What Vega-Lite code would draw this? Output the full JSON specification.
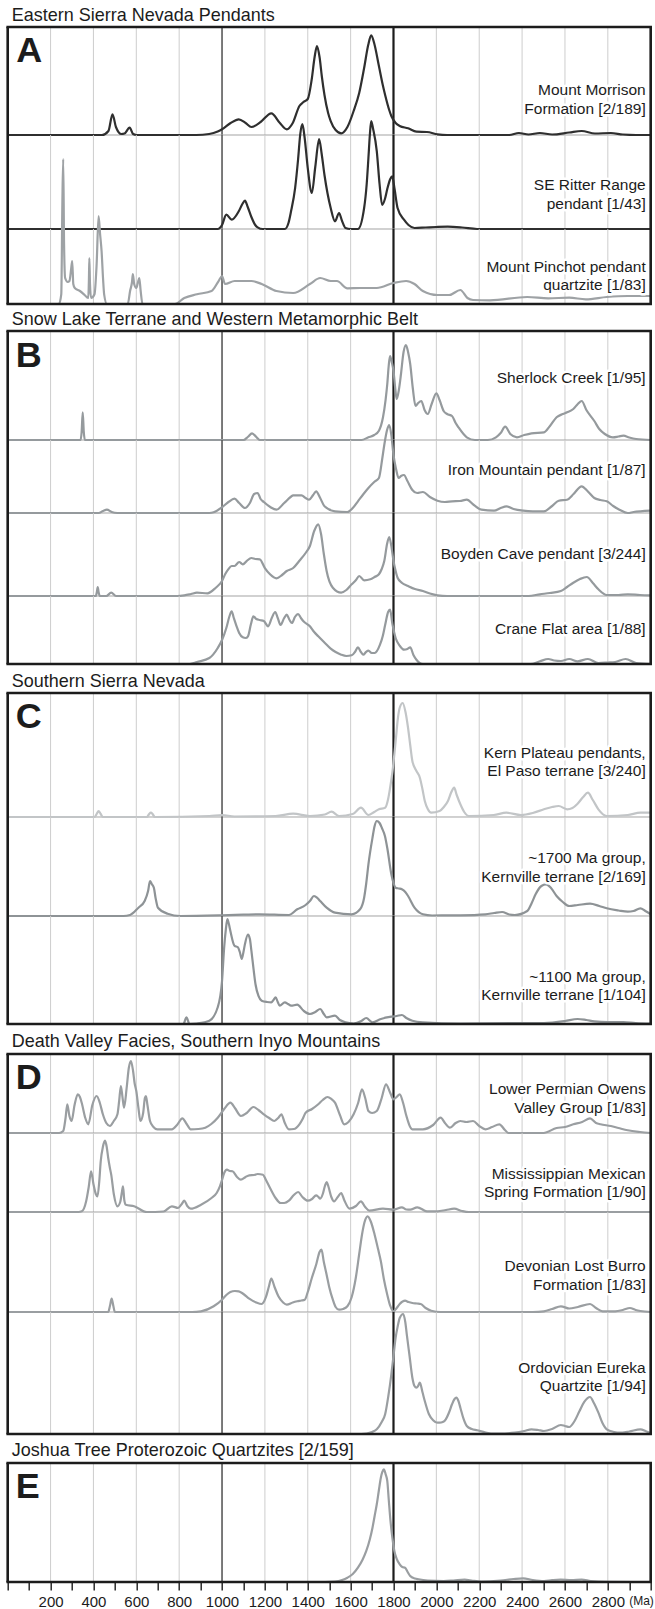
{
"$schema":"https://vega.github.io/schema/vega-lite/v6.json",
"background":"white",
"padding":{"left":5.7,"top":6,"right":0,"bottom":0},
"bounds":"flush",
"spacing":0,
"config":{"view":{"stroke":null},"font":"Liberation Sans"},
"resolve":{"scale":{"x":"independent","y":"independent"}},
"datasets":{
"grid":[{"ma":200},{"ma":400},{"ma":600},{"ma":800},{"ma":1000},{"ma":1200},{"ma":1400},{"ma":1600},{"ma":1800},{"ma":2000},{"ma":2200},{"ma":2400},{"ma":2600},{"ma":2800}],
"A1":[{"ma":0,"p":0},{"ma":440,"p":0},{"ma":470,"p":4},{"ma":489,"p":20.7},{"ma":505,"p":8},{"ma":530,"p":1},{"ma":545,"p":1.5},{"ma":569,"p":7.3},{"ma":585,"p":1},{"ma":600,"p":0},{"ma":880,"p":0},{"ma":940,"p":1},{"ma":980,"p":3.5},{"ma":1000,"p":5.7},{"ma":1040,"p":12},{"ma":1078,"p":15.7},{"ma":1110,"p":12},{"ma":1137,"p":8},{"ma":1180,"p":13},{"ma":1230,"p":21.7},{"ma":1270,"p":12},{"ma":1302,"p":5.7},{"ma":1330,"p":12},{"ma":1361,"p":29},{"ma":1380,"p":33},{"ma":1400,"p":36},{"ma":1418,"p":55},{"ma":1432,"p":78},{"ma":1443,"p":89},{"ma":1455,"p":78},{"ma":1466,"p":58},{"ma":1478,"p":40},{"ma":1495,"p":22},{"ma":1507,"p":14},{"ma":1530,"p":5},{"ma":1556,"p":1.7},{"ma":1585,"p":8},{"ma":1614,"p":24},{"ma":1640,"p":42},{"ma":1663,"p":67},{"ma":1682,"p":90},{"ma":1696,"p":99.7},{"ma":1712,"p":90},{"ma":1731,"p":70},{"ma":1750,"p":50},{"ma":1761,"p":40},{"ma":1780,"p":25},{"ma":1790,"p":19},{"ma":1810,"p":12},{"ma":1829,"p":9},{"ma":1868,"p":6.7},{"ma":1907,"p":3.3},{"ma":1956,"p":3},{"ma":2005,"p":0.7},{"ma":2050,"p":0},{"ma":2340,"p":0},{"ma":2385,"p":2},{"ma":2430,"p":0.5},{"ma":2483,"p":2},{"ma":2540,"p":0.5},{"ma":2620,"p":2.5},{"ma":2678,"p":4},{"ma":2740,"p":1.5},{"ma":2814,"p":2},{"ma":2870,"p":0.5},{"ma":2932,"p":0},{"ma":3000,"p":0}],
"A2":[{"ma":0,"p":0},{"ma":980,"p":0},{"ma":1000,"p":4},{"ma":1020,"p":14.3},{"ma":1045,"p":9.3},{"ma":1078,"p":17.7},{"ma":1095,"p":25},{"ma":1107,"p":28.3},{"ma":1120,"p":22},{"ma":1137,"p":12},{"ma":1155,"p":4},{"ma":1166,"p":1.7},{"ma":1190,"p":0},{"ma":1293,"p":0},{"ma":1310,"p":6},{"ma":1322,"p":17.7},{"ma":1341,"p":41},{"ma":1355,"p":70},{"ma":1365,"p":95},{"ma":1375,"p":105},{"ma":1385,"p":92},{"ma":1400,"p":61},{"ma":1419,"p":36},{"ma":1435,"p":62},{"ma":1453,"p":90},{"ma":1465,"p":75},{"ma":1478,"p":54},{"ma":1507,"p":21},{"ma":1527,"p":7.7},{"ma":1546,"p":16},{"ma":1560,"p":8},{"ma":1576,"p":1},{"ma":1600,"p":0},{"ma":1634,"p":0},{"ma":1663,"p":21},{"ma":1675,"p":45},{"ma":1683,"p":71},{"ma":1690,"p":95},{"ma":1696,"p":108},{"ma":1705,"p":100},{"ma":1722,"p":78},{"ma":1735,"p":45},{"ma":1747,"p":24},{"ma":1760,"p":30},{"ma":1771,"p":40},{"ma":1785,"p":50},{"ma":1794,"p":52.7},{"ma":1805,"p":40},{"ma":1819,"p":21},{"ma":1849,"p":9.3},{"ma":1870,"p":4},{"ma":1898,"p":1},{"ma":1950,"p":1.5},{"ma":2000,"p":2},{"ma":2053,"p":2.3},{"ma":2120,"p":1.5},{"ma":2190,"p":0},{"ma":3000,"p":0}],
"A3":[{"ma":0,"p":0},{"ma":239,"p":0},{"ma":250,"p":10},{"ma":255,"p":100},{"ma":259,"p":145},{"ma":263,"p":60},{"ma":268,"p":26},{"ma":280,"p":22},{"ma":288,"p":23},{"ma":296,"p":35},{"ma":301,"p":43},{"ma":306,"p":20},{"ma":313,"p":16},{"ma":337,"p":13},{"ma":356,"p":9.7},{"ma":376,"p":6},{"ma":379,"p":25},{"ma":381,"p":46},{"ma":384,"p":20},{"ma":389,"p":6},{"ma":405,"p":9.7},{"ma":415,"p":40},{"ma":424,"p":88},{"ma":431,"p":70},{"ma":438,"p":53},{"ma":445,"p":25},{"ma":450,"p":9.7},{"ma":463,"p":0},{"ma":560,"p":0},{"ma":571,"p":13},{"ma":580,"p":22},{"ma":584,"p":30},{"ma":590,"p":20},{"ma":600,"p":16},{"ma":608,"p":22},{"ma":614,"p":26},{"ma":620,"p":14},{"ma":629,"p":0},{"ma":780,"p":0},{"ma":824,"p":6},{"ma":883,"p":9.7},{"ma":951,"p":13},{"ma":984,"p":23},{"ma":1000,"p":28},{"ma":1014,"p":20},{"ma":1059,"p":23},{"ma":1137,"p":23},{"ma":1185,"p":20},{"ma":1254,"p":13},{"ma":1332,"p":11},{"ma":1410,"p":20},{"ma":1458,"p":26},{"ma":1507,"p":23},{"ma":1536,"p":23},{"ma":1585,"p":15.7},{"ma":1644,"p":16},{"ma":1722,"p":16},{"ma":1800,"p":21},{"ma":1859,"p":23},{"ma":1898,"p":20},{"ma":1937,"p":13},{"ma":2005,"p":9},{"ma":2060,"p":9},{"ma":2112,"p":14},{"ma":2145,"p":6},{"ma":2171,"p":4},{"ma":2250,"p":3.7},{"ma":2424,"p":7},{"ma":2522,"p":5.7},{"ma":2620,"p":6.3},{"ma":2697,"p":4.7},{"ma":2795,"p":7},{"ma":2893,"p":8},{"ma":3000,"p":8}],
"B1":[{"ma":0,"p":0},{"ma":340,"p":0},{"ma":345,"p":8},{"ma":350,"p":27.7},{"ma":355,"p":8},{"ma":360,"p":0},{"ma":1100,"p":0},{"ma":1120,"p":3},{"ma":1140,"p":6.7},{"ma":1160,"p":3},{"ma":1176,"p":0},{"ma":1650,"p":0},{"ma":1683,"p":2.7},{"ma":1710,"p":5},{"ma":1732,"p":9.3},{"ma":1751,"p":22.7},{"ma":1763,"p":40},{"ma":1771,"p":56},{"ma":1778,"p":75},{"ma":1784,"p":84},{"ma":1792,"p":78},{"ma":1800,"p":69},{"ma":1808,"p":52},{"ma":1815,"p":41},{"ma":1825,"p":50},{"ma":1835,"p":66},{"ma":1847,"p":88},{"ma":1858,"p":95},{"ma":1868,"p":88},{"ma":1878,"p":76},{"ma":1890,"p":52},{"ma":1903,"p":34},{"ma":1915,"p":37},{"ma":1930,"p":39},{"ma":1945,"p":30},{"ma":1960,"p":26},{"ma":1978,"p":36},{"ma":2000,"p":46.7},{"ma":2015,"p":40},{"ma":2034,"p":29},{"ma":2050,"p":26},{"ma":2073,"p":24},{"ma":2090,"p":17},{"ma":2103,"p":12.7},{"ma":2142,"p":2.7},{"ma":2180,"p":0},{"ma":2240,"p":0},{"ma":2278,"p":2.7},{"ma":2300,"p":7},{"ma":2321,"p":13.3},{"ma":2345,"p":6},{"ma":2376,"p":2.7},{"ma":2410,"p":5},{"ma":2444,"p":6.7},{"ma":2502,"p":7.7},{"ma":2530,"p":14},{"ma":2561,"p":22.7},{"ma":2590,"p":26},{"ma":2610,"p":27.7},{"ma":2639,"p":31},{"ma":2660,"p":36},{"ma":2678,"p":39},{"ma":2700,"p":30},{"ma":2737,"p":19},{"ma":2760,"p":11},{"ma":2786,"p":6},{"ma":2824,"p":2.7},{"ma":2850,"p":3.5},{"ma":2873,"p":4.3},{"ma":2900,"p":2.5},{"ma":2932,"p":1},{"ma":3000,"p":0}],
"B2":[{"ma":0,"p":0},{"ma":424,"p":0},{"ma":445,"p":2},{"ma":463,"p":3.3},{"ma":485,"p":1},{"ma":512,"p":0},{"ma":940,"p":0},{"ma":961,"p":0.7},{"ma":1000,"p":5.7},{"ma":1030,"p":11},{"ma":1058,"p":14.3},{"ma":1080,"p":10},{"ma":1107,"p":5},{"ma":1130,"p":10},{"ma":1150,"p":19},{"ma":1166,"p":20},{"ma":1180,"p":14},{"ma":1195,"p":11},{"ma":1225,"p":6},{"ma":1254,"p":3.3},{"ma":1290,"p":10},{"ma":1320,"p":16},{"ma":1332,"p":17.7},{"ma":1371,"p":17.7},{"ma":1390,"p":15},{"ma":1406,"p":13.3},{"ma":1425,"p":18},{"ma":1439,"p":21.7},{"ma":1458,"p":15},{"ma":1478,"p":6.7},{"ma":1527,"p":1.7},{"ma":1585,"p":1},{"ma":1610,"p":5},{"ma":1634,"p":11.7},{"ma":1660,"p":19},{"ma":1683,"p":25},{"ma":1710,"p":31},{"ma":1732,"p":35},{"ma":1748,"p":55},{"ma":1757,"p":68},{"ma":1770,"p":83},{"ma":1780,"p":88},{"ma":1790,"p":78},{"ma":1800,"p":58},{"ma":1812,"p":44},{"ma":1824,"p":35},{"ma":1835,"p":37},{"ma":1849,"p":38},{"ma":1865,"p":32},{"ma":1888,"p":23},{"ma":1910,"p":20},{"ma":1937,"p":21},{"ma":1970,"p":16},{"ma":2005,"p":12.3},{"ma":2040,"p":11},{"ma":2073,"p":11.7},{"ma":2110,"p":12},{"ma":2142,"p":13.3},{"ma":2175,"p":8},{"ma":2210,"p":3.3},{"ma":2269,"p":2.3},{"ma":2300,"p":5},{"ma":2327,"p":6.7},{"ma":2360,"p":4},{"ma":2405,"p":2.3},{"ma":2450,"p":1.7},{"ma":2502,"p":1.7},{"ma":2540,"p":7},{"ma":2571,"p":12.3},{"ma":2610,"p":13.3},{"ma":2640,"p":19},{"ma":2678,"p":26.7},{"ma":2705,"p":22},{"ma":2737,"p":15},{"ma":2765,"p":13},{"ma":2795,"p":11.7},{"ma":2825,"p":7},{"ma":2854,"p":3.3},{"ma":2893,"p":0},{"ma":2920,"p":1},{"ma":2952,"p":1.7},{"ma":3000,"p":2.3}],
"B3":[{"ma":0,"p":0},{"ma":411,"p":0},{"ma":416,"p":4},{"ma":420,"p":9},{"ma":424,"p":4},{"ma":430,"p":0},{"ma":460,"p":0},{"ma":483,"p":3.3},{"ma":505,"p":0},{"ma":790,"p":0},{"ma":824,"p":0.7},{"ma":855,"p":2},{"ma":883,"p":3.3},{"ma":932,"p":2.7},{"ma":971,"p":8.3},{"ma":1000,"p":15},{"ma":1015,"p":22},{"ma":1029,"p":26.7},{"ma":1045,"p":30},{"ma":1058,"p":30},{"ma":1080,"p":34},{"ma":1097,"p":31.7},{"ma":1115,"p":35},{"ma":1137,"p":38},{"ma":1155,"p":37},{"ma":1176,"p":36.7},{"ma":1200,"p":28},{"ma":1224,"p":21.7},{"ma":1254,"p":17.7},{"ma":1280,"p":21},{"ma":1302,"p":25},{"ma":1332,"p":28},{"ma":1360,"p":35},{"ma":1390,"p":43},{"ma":1410,"p":50},{"ma":1430,"p":65},{"ma":1449,"p":71.7},{"ma":1462,"p":62},{"ma":1475,"p":42},{"ma":1488,"p":25},{"ma":1517,"p":8.3},{"ma":1556,"p":3.3},{"ma":1580,"p":6},{"ma":1605,"p":11.7},{"ma":1625,"p":16},{"ma":1640,"p":20},{"ma":1663,"p":15.7},{"ma":1692,"p":16.7},{"ma":1712,"p":19},{"ma":1732,"p":21.7},{"ma":1745,"p":27},{"ma":1757,"p":35},{"ma":1770,"p":52},{"ma":1780,"p":59},{"ma":1790,"p":50},{"ma":1800,"p":35},{"ma":1810,"p":25},{"ma":1819,"p":18.3},{"ma":1840,"p":13},{"ma":1868,"p":10},{"ma":1900,"p":7},{"ma":1937,"p":5},{"ma":1970,"p":2.5},{"ma":2005,"p":0.7},{"ma":2050,"p":0},{"ma":2430,"p":0},{"ma":2483,"p":1.7},{"ma":2530,"p":3},{"ma":2581,"p":5},{"ma":2610,"p":9},{"ma":2639,"p":13.3},{"ma":2670,"p":17},{"ma":2702,"p":19},{"ma":2730,"p":13},{"ma":2756,"p":6.7},{"ma":2795,"p":1},{"ma":2850,"p":1},{"ma":2893,"p":1.7},{"ma":2950,"p":1},{"ma":3000,"p":0.7}],
"B4":[{"ma":0,"p":0},{"ma":850,"p":0},{"ma":883,"p":2},{"ma":941,"p":6},{"ma":980,"p":16},{"ma":1000,"p":24},{"ma":1020,"p":36},{"ma":1035,"p":48},{"ma":1045,"p":52.7},{"ma":1055,"p":46},{"ma":1068,"p":37.7},{"ma":1080,"p":31},{"ma":1097,"p":26.7},{"ma":1110,"p":26},{"ma":1121,"p":27.7},{"ma":1135,"p":40},{"ma":1146,"p":47.7},{"ma":1160,"p":45},{"ma":1176,"p":44},{"ma":1195,"p":43},{"ma":1215,"p":37.7},{"ma":1232,"p":46},{"ma":1248,"p":52},{"ma":1260,"p":46},{"ma":1273,"p":39},{"ma":1290,"p":46},{"ma":1302,"p":49.3},{"ma":1315,"p":44},{"ma":1326,"p":41},{"ma":1340,"p":47},{"ma":1355,"p":50},{"ma":1368,"p":46},{"ma":1380,"p":42.7},{"ma":1410,"p":37.7},{"ma":1430,"p":32},{"ma":1449,"p":27.7},{"ma":1480,"p":21},{"ma":1507,"p":15.3},{"ma":1530,"p":12},{"ma":1556,"p":9.3},{"ma":1580,"p":8},{"ma":1605,"p":8.7},{"ma":1620,"p":12},{"ma":1634,"p":16.7},{"ma":1648,"p":12},{"ma":1659,"p":9.3},{"ma":1672,"p":12},{"ma":1683,"p":13.3},{"ma":1698,"p":11},{"ma":1712,"p":11},{"ma":1737,"p":19.3},{"ma":1750,"p":28},{"ma":1761,"p":39},{"ma":1775,"p":52},{"ma":1784,"p":54.3},{"ma":1795,"p":40},{"ma":1810,"p":26},{"ma":1830,"p":18},{"ma":1849,"p":14.3},{"ma":1865,"p":15},{"ma":1878,"p":16.7},{"ma":1893,"p":9},{"ma":1907,"p":4.3},{"ma":1937,"p":0},{"ma":2440,"p":0},{"ma":2483,"p":2.7},{"ma":2522,"p":5},{"ma":2550,"p":3.5},{"ma":2581,"p":3},{"ma":2620,"p":5},{"ma":2659,"p":2.7},{"ma":2707,"p":5},{"ma":2756,"p":1},{"ma":2800,"p":1.5},{"ma":2834,"p":2},{"ma":2883,"p":5},{"ma":2932,"p":1},{"ma":3000,"p":0}],
"C1":[{"ma":0,"p":0},{"ma":405,"p":0},{"ma":415,"p":3},{"ma":424,"p":6},{"ma":434,"p":3},{"ma":444,"p":0},{"ma":650,"p":0},{"ma":660,"p":3},{"ma":668,"p":4.3},{"ma":676,"p":3},{"ma":686,"p":0},{"ma":941,"p":1},{"ma":1000,"p":2},{"ma":1058,"p":0.5},{"ma":1250,"p":1},{"ma":1332,"p":3.3},{"ma":1410,"p":1},{"ma":1480,"p":2.5},{"ma":1511,"p":5.3},{"ma":1546,"p":1},{"ma":1610,"p":3},{"ma":1648,"p":9.3},{"ma":1683,"p":2},{"ma":1710,"p":5},{"ma":1732,"p":7.7},{"ma":1761,"p":9.3},{"ma":1775,"p":18},{"ma":1784,"p":29},{"ma":1795,"p":45},{"ma":1804,"p":62.7},{"ma":1812,"p":80},{"ma":1819,"p":96},{"ma":1830,"p":110},{"ma":1843,"p":114},{"ma":1856,"p":105},{"ma":1868,"p":89},{"ma":1878,"p":72},{"ma":1888,"p":56},{"ma":1907,"p":46},{"ma":1923,"p":39.3},{"ma":1935,"p":28},{"ma":1946,"p":16},{"ma":1960,"p":8},{"ma":1976,"p":4.3},{"ma":2015,"p":6},{"ma":2035,"p":10},{"ma":2054,"p":16},{"ma":2070,"p":25},{"ma":2083,"p":29.3},{"ma":2095,"p":22},{"ma":2112,"p":12.7},{"ma":2130,"p":5},{"ma":2151,"p":1},{"ma":2268,"p":2},{"ma":2327,"p":4.3},{"ma":2395,"p":2},{"ma":2450,"p":4},{"ma":2502,"p":7.7},{"ma":2540,"p":10},{"ma":2571,"p":11},{"ma":2610,"p":7.7},{"ma":2635,"p":9},{"ma":2659,"p":13.3},{"ma":2685,"p":20},{"ma":2707,"p":24.3},{"ma":2730,"p":17},{"ma":2756,"p":7.7},{"ma":2795,"p":1},{"ma":2893,"p":2},{"ma":2952,"p":4.3},{"ma":3000,"p":4.3}],
"C2":[{"ma":0,"p":0},{"ma":540,"p":0},{"ma":571,"p":1},{"ma":610,"p":8.3},{"ma":639,"p":15},{"ma":655,"p":25},{"ma":664,"p":35},{"ma":672,"p":32},{"ma":682,"p":28.3},{"ma":690,"p":18},{"ma":701,"p":8.3},{"ma":746,"p":2.3},{"ma":805,"p":0},{"ma":1000,"p":0.7},{"ma":1100,"p":1.3},{"ma":1176,"p":1.7},{"ma":1312,"p":1},{"ma":1351,"p":6.7},{"ma":1390,"p":11},{"ma":1410,"p":15},{"ma":1429,"p":20},{"ma":1445,"p":18},{"ma":1458,"p":15},{"ma":1488,"p":8.3},{"ma":1527,"p":3.3},{"ma":1605,"p":1.7},{"ma":1644,"p":6.7},{"ma":1663,"p":18.3},{"ma":1673,"p":33},{"ma":1683,"p":51.7},{"ma":1702,"p":78.3},{"ma":1712,"p":90},{"ma":1722,"p":95},{"ma":1735,"p":93},{"ma":1746,"p":88},{"ma":1760,"p":80},{"ma":1771,"p":68},{"ma":1790,"p":41.7},{"ma":1800,"p":33},{"ma":1810,"p":28.3},{"ma":1825,"p":27.5},{"ma":1839,"p":26.7},{"ma":1855,"p":24},{"ma":1868,"p":20},{"ma":1898,"p":8.3},{"ma":1937,"p":1.7},{"ma":1980,"p":0.5},{"ma":2112,"p":0.7},{"ma":2229,"p":1.7},{"ma":2270,"p":3},{"ma":2307,"p":4},{"ma":2340,"p":1.5},{"ma":2366,"p":1},{"ma":2424,"p":5},{"ma":2445,"p":13},{"ma":2463,"p":21.7},{"ma":2490,"p":30},{"ma":2512,"p":31.7},{"ma":2535,"p":28},{"ma":2561,"p":20},{"ma":2590,"p":14},{"ma":2620,"p":10},{"ma":2660,"p":11},{"ma":2717,"p":12.3},{"ma":2760,"p":10},{"ma":2795,"p":7.7},{"ma":2850,"p":5.5},{"ma":2893,"p":4.3},{"ma":2920,"p":5},{"ma":2952,"p":7.7},{"ma":2975,"p":5},{"ma":3000,"p":1.7}],
"C3":[{"ma":0,"p":0},{"ma":820,"p":0},{"ma":834,"p":6.7},{"ma":848,"p":0},{"ma":883,"p":0.5},{"ma":941,"p":3.3},{"ma":980,"p":16.7},{"ma":1000,"p":43},{"ma":1010,"p":76.7},{"ma":1018,"p":95},{"ma":1025,"p":105},{"ma":1032,"p":100},{"ma":1039,"p":93},{"ma":1058,"p":78.3},{"ma":1074,"p":76.7},{"ma":1083,"p":72},{"ma":1092,"p":65},{"ma":1100,"p":72},{"ma":1107,"p":80},{"ma":1121,"p":89.3},{"ma":1130,"p":85},{"ma":1137,"p":73.3},{"ma":1147,"p":55},{"ma":1156,"p":40},{"ma":1170,"p":28},{"ma":1185,"p":23.3},{"ma":1210,"p":22},{"ma":1230,"p":21.7},{"ma":1240,"p":24},{"ma":1250,"p":26.7},{"ma":1260,"p":22},{"ma":1269,"p":18.3},{"ma":1293,"p":21.7},{"ma":1308,"p":20},{"ma":1322,"p":18.3},{"ma":1351,"p":19.3},{"ma":1380,"p":13.3},{"ma":1410,"p":10},{"ma":1435,"p":12},{"ma":1458,"p":15},{"ma":1475,"p":10},{"ma":1488,"p":6.7},{"ma":1527,"p":8.3},{"ma":1550,"p":4},{"ma":1576,"p":1.7},{"ma":1614,"p":0.5},{"ma":1650,"p":3},{"ma":1673,"p":6},{"ma":1702,"p":1.7},{"ma":1741,"p":5},{"ma":1790,"p":7.3},{"ma":1815,"p":8},{"ma":1839,"p":9},{"ma":1860,"p":6},{"ma":1888,"p":3.3},{"ma":1937,"p":1.7},{"ma":2112,"p":0.5},{"ma":2502,"p":1},{"ma":2600,"p":3},{"ma":2659,"p":5},{"ma":2700,"p":4},{"ma":2737,"p":2.7},{"ma":2800,"p":2},{"ma":2873,"p":2},{"ma":2930,"p":1},{"ma":3000,"p":0.5}],
"D1":[{"ma":0,"p":0},{"ma":240,"p":0},{"ma":259,"p":2},{"ma":270,"p":15},{"ma":278,"p":28.7},{"ma":288,"p":17},{"ma":298,"p":12},{"ma":312,"p":28},{"ma":327,"p":38.7},{"ma":337,"p":36},{"ma":347,"p":28.7},{"ma":362,"p":15},{"ma":376,"p":8.7},{"ma":395,"p":28},{"ma":415,"p":37},{"ma":430,"p":30},{"ma":444,"p":18.7},{"ma":460,"p":10},{"ma":477,"p":7},{"ma":495,"p":12},{"ma":512,"p":18.7},{"ma":520,"p":32},{"ma":528,"p":47},{"ma":536,"p":35},{"ma":543,"p":25.3},{"ma":555,"p":45},{"ma":565,"p":65},{"ma":575,"p":72},{"ma":585,"p":62},{"ma":592,"p":50},{"ma":600,"p":42},{"ma":610,"p":25},{"ma":619,"p":12},{"ma":632,"p":20},{"ma":640,"p":35},{"ma":645,"p":37},{"ma":652,"p":28},{"ma":664,"p":12},{"ma":680,"p":6},{"ma":698,"p":3.7},{"ma":766,"p":3.7},{"ma":790,"p":8},{"ma":815,"p":14.7},{"ma":835,"p":9},{"ma":854,"p":3.7},{"ma":890,"p":4},{"ma":922,"p":5.3},{"ma":950,"p":9},{"ma":980,"p":15.3},{"ma":1010,"p":24},{"ma":1039,"p":30.3},{"ma":1060,"p":25},{"ma":1088,"p":17},{"ma":1115,"p":20},{"ma":1146,"p":26},{"ma":1170,"p":23},{"ma":1195,"p":18.7},{"ma":1220,"p":15},{"ma":1244,"p":12},{"ma":1262,"p":15},{"ma":1277,"p":18.7},{"ma":1293,"p":10},{"ma":1312,"p":3.7},{"ma":1335,"p":4},{"ma":1361,"p":8.7},{"ma":1376,"p":14},{"ma":1390,"p":20.3},{"ma":1420,"p":24},{"ma":1449,"p":28.7},{"ma":1470,"p":33},{"ma":1492,"p":36},{"ma":1510,"p":34},{"ma":1527,"p":30.3},{"ma":1550,"p":18},{"ma":1570,"p":8.7},{"ma":1590,"p":11},{"ma":1614,"p":18.7},{"ma":1635,"p":30},{"ma":1653,"p":43.7},{"ma":1668,"p":35},{"ma":1683,"p":22},{"ma":1700,"p":20},{"ma":1722,"p":22},{"ma":1745,"p":35},{"ma":1765,"p":48.7},{"ma":1785,"p":40},{"ma":1800,"p":33.7},{"ma":1815,"p":36},{"ma":1829,"p":38.7},{"ma":1845,"p":30},{"ma":1858,"p":18.7},{"ma":1888,"p":3.7},{"ma":1937,"p":3.7},{"ma":1985,"p":8},{"ma":2020,"p":15.3},{"ma":2040,"p":10},{"ma":2063,"p":5.3},{"ma":2090,"p":10},{"ma":2112,"p":12},{"ma":2140,"p":11},{"ma":2171,"p":12},{"ma":2200,"p":7},{"ma":2229,"p":3.7},{"ma":2260,"p":6},{"ma":2294,"p":8.7},{"ma":2320,"p":3},{"ma":2337,"p":0},{"ma":2500,"p":0},{"ma":2561,"p":5},{"ma":2600,"p":6},{"ma":2639,"p":8.7},{"ma":2680,"p":11},{"ma":2717,"p":14.7},{"ma":2745,"p":10},{"ma":2766,"p":8.7},{"ma":2814,"p":7},{"ma":2850,"p":5},{"ma":2893,"p":2.7},{"ma":2950,"p":1},{"ma":3000,"p":0}],
"D2":[{"ma":0,"p":0},{"ma":330,"p":0},{"ma":346,"p":0.7},{"ma":366,"p":10.7},{"ma":378,"p":25},{"ma":389,"p":40.7},{"ma":400,"p":28},{"ma":411,"p":18},{"ma":419,"p":15.7},{"ma":427,"p":30},{"ma":434,"p":50.7},{"ma":444,"p":65},{"ma":454,"p":71.3},{"ma":462,"p":65},{"ma":469,"p":54},{"ma":476,"p":45},{"ma":483,"p":37.3},{"ma":495,"p":18},{"ma":512,"p":5.7},{"ma":525,"p":10},{"ma":533,"p":20},{"ma":538,"p":25.7},{"ma":544,"p":12},{"ma":551,"p":7.3},{"ma":590,"p":5.7},{"ma":649,"p":0},{"ma":727,"p":0.5},{"ma":766,"p":5.7},{"ma":795,"p":4},{"ma":812,"p":8},{"ma":824,"p":11.3},{"ma":838,"p":6},{"ma":854,"p":3.3},{"ma":902,"p":7.3},{"ma":951,"p":14},{"ma":975,"p":19},{"ma":990,"p":25.7},{"ma":1000,"p":32},{"ma":1010,"p":39},{"ma":1023,"p":42.3},{"ma":1036,"p":41},{"ma":1049,"p":40.7},{"ma":1070,"p":35},{"ma":1088,"p":32.3},{"ma":1110,"p":35},{"ma":1127,"p":36.7},{"ma":1150,"p":37},{"ma":1166,"p":38},{"ma":1191,"p":37.3},{"ma":1205,"p":32},{"ma":1224,"p":24},{"ma":1250,"p":14},{"ma":1273,"p":9},{"ma":1290,"p":9},{"ma":1312,"p":11.3},{"ma":1335,"p":17},{"ma":1355,"p":20},{"ma":1375,"p":15},{"ma":1400,"p":11.3},{"ma":1420,"p":13},{"ma":1439,"p":16.7},{"ma":1450,"p":15},{"ma":1458,"p":13.3},{"ma":1470,"p":18},{"ma":1480,"p":26},{"ma":1488,"p":30},{"ma":1497,"p":25},{"ma":1510,"p":15},{"ma":1523,"p":10.7},{"ma":1540,"p":15},{"ma":1556,"p":19},{"ma":1570,"p":12},{"ma":1595,"p":3.3},{"ma":1625,"p":6},{"ma":1648,"p":10.7},{"ma":1668,"p":5},{"ma":1687,"p":1.3},{"ma":1751,"p":3.3},{"ma":1800,"p":2.3},{"ma":1839,"p":4.7},{"ma":1860,"p":2.5},{"ma":1878,"p":2.3},{"ma":1911,"p":4.7},{"ma":1956,"p":0.7},{"ma":2005,"p":0.7},{"ma":2045,"p":2},{"ma":2083,"p":3.3},{"ma":2120,"p":1},{"ma":2151,"p":0},{"ma":3000,"p":0}],
"D3":[{"ma":0,"p":0},{"ma":469,"p":0},{"ma":477,"p":6},{"ma":485,"p":13.3},{"ma":493,"p":6},{"ma":500,"p":0},{"ma":860,"p":0},{"ma":902,"p":0.7},{"ma":961,"p":5.7},{"ma":1000,"p":12.3},{"ma":1020,"p":17},{"ma":1039,"p":20},{"ma":1060,"p":21},{"ma":1078,"p":20.7},{"ma":1100,"p":18},{"ma":1127,"p":13.3},{"ma":1160,"p":9.5},{"ma":1185,"p":8},{"ma":1205,"p":15},{"ma":1218,"p":25},{"ma":1230,"p":33.3},{"ma":1245,"p":25},{"ma":1263,"p":15.7},{"ma":1285,"p":9.5},{"ma":1302,"p":7.3},{"ma":1330,"p":9.5},{"ma":1351,"p":10.7},{"ma":1370,"p":11.5},{"ma":1386,"p":12.3},{"ma":1400,"p":20},{"ma":1419,"p":34},{"ma":1440,"p":48},{"ma":1455,"p":60},{"ma":1464,"p":62.3},{"ma":1475,"p":50},{"ma":1488,"p":37.3},{"ma":1500,"p":25},{"ma":1517,"p":12.3},{"ma":1530,"p":5},{"ma":1546,"p":2.3},{"ma":1565,"p":3},{"ma":1585,"p":5.7},{"ma":1605,"p":15},{"ma":1624,"p":34},{"ma":1640,"p":58},{"ma":1653,"p":77.3},{"ma":1665,"p":90},{"ma":1679,"p":95.7},{"ma":1695,"p":90},{"ma":1712,"p":77.3},{"ma":1728,"p":63},{"ma":1741,"p":50.7},{"ma":1755,"p":33},{"ma":1771,"p":17.3},{"ma":1785,"p":6},{"ma":1800,"p":0.7},{"ma":1815,"p":4},{"ma":1829,"p":8},{"ma":1854,"p":11.3},{"ma":1870,"p":10},{"ma":1888,"p":9},{"ma":1910,"p":8.5},{"ma":1927,"p":8},{"ma":1950,"p":4},{"ma":1976,"p":1.3},{"ma":2020,"p":0},{"ma":2450,"p":0},{"ma":2502,"p":0.7},{"ma":2540,"p":3},{"ma":2581,"p":5.7},{"ma":2620,"p":3.5},{"ma":2660,"p":5},{"ma":2717,"p":8},{"ma":2745,"p":4},{"ma":2776,"p":0.7},{"ma":2834,"p":0.7},{"ma":2870,"p":2},{"ma":2903,"p":4},{"ma":2930,"p":2},{"ma":2952,"p":1},{"ma":3000,"p":0}],
"D4":[{"ma":0,"p":0},{"ma":1650,"p":0},{"ma":1700,"p":2},{"ma":1722,"p":4.7},{"ma":1745,"p":12},{"ma":1761,"p":19.7},{"ma":1776,"p":38},{"ma":1790,"p":59.7},{"ma":1800,"p":78},{"ma":1810,"p":96.3},{"ma":1820,"p":108},{"ma":1829,"p":116},{"ma":1845,"p":120},{"ma":1855,"p":112},{"ma":1862,"p":99.7},{"ma":1875,"p":78},{"ma":1888,"p":56.3},{"ma":1898,"p":48},{"ma":1907,"p":46.3},{"ma":1915,"p":48},{"ma":1923,"p":51.3},{"ma":1935,"p":42},{"ma":1946,"p":33},{"ma":1965,"p":20},{"ma":1985,"p":13.7},{"ma":2000,"p":11.5},{"ma":2015,"p":11.3},{"ma":2030,"p":12},{"ma":2044,"p":14.7},{"ma":2060,"p":22},{"ma":2073,"p":29.7},{"ma":2085,"p":35},{"ma":2093,"p":36.3},{"ma":2103,"p":33},{"ma":2112,"p":26.3},{"ma":2127,"p":15},{"ma":2142,"p":8},{"ma":2165,"p":5},{"ma":2190,"p":3.7},{"ma":2230,"p":1.5},{"ma":2268,"p":0.3},{"ma":2320,"p":0.5},{"ma":2366,"p":1.3},{"ma":2410,"p":3},{"ma":2444,"p":4.7},{"ma":2475,"p":4},{"ma":2502,"p":3},{"ma":2540,"p":5},{"ma":2581,"p":9},{"ma":2600,"p":8},{"ma":2620,"p":7},{"ma":2645,"p":13},{"ma":2668,"p":23},{"ma":2690,"p":32},{"ma":2717,"p":37},{"ma":2735,"p":31},{"ma":2756,"p":21.3},{"ma":2775,"p":11},{"ma":2795,"p":4.7},{"ma":2830,"p":2},{"ma":2854,"p":1.3},{"ma":2900,"p":2.5},{"ma":2952,"p":4.7},{"ma":2980,"p":2.5},{"ma":3000,"p":1}],
"E1":[{"ma":0,"p":0},{"ma":1480,"p":0},{"ma":1527,"p":0.5},{"ma":1560,"p":2},{"ma":1585,"p":4.3},{"ma":1610,"p":8},{"ma":1634,"p":14.3},{"ma":1655,"p":22},{"ma":1673,"p":31},{"ma":1690,"p":43},{"ma":1702,"p":54.3},{"ma":1712,"p":66},{"ma":1722,"p":77.7},{"ma":1732,"p":92},{"ma":1741,"p":104.3},{"ma":1748,"p":110},{"ma":1755,"p":112.7},{"ma":1763,"p":108},{"ma":1771,"p":101},{"ma":1778,"p":82},{"ma":1786,"p":61},{"ma":1795,"p":44},{"ma":1804,"p":31},{"ma":1815,"p":23},{"ma":1829,"p":17.7},{"ma":1841,"p":15},{"ma":1854,"p":14.3},{"ma":1866,"p":10},{"ma":1878,"p":6},{"ma":1900,"p":3.5},{"ma":1917,"p":2.7},{"ma":1960,"p":1.5},{"ma":2034,"p":1},{"ma":2080,"p":1.5},{"ma":2132,"p":2.3},{"ma":2170,"p":1.2},{"ma":2210,"p":0.5},{"ma":2300,"p":1.5},{"ma":2360,"p":3},{"ma":2405,"p":3.7},{"ma":2450,"p":2},{"ma":2503,"p":1},{"ma":2540,"p":1.8},{"ma":2580,"p":2.3},{"ma":2630,"p":1.8},{"ma":2678,"p":2.3},{"ma":2720,"p":1},{"ma":2756,"p":0.5},{"ma":3000,"p":0}]
},
"vconcat":[
{"width":643,"height":108,"layer":[
{"data":{"name":"grid"},"mark":{"type":"rule"},"encoding":{"x":{"field":"ma","type":"quantitative","scale":{"domain":[0,3000],"nice":false,"zero":false},"axis":null},"color":{"condition":[{"test":"datum.ma === 1800","value":"#1c1c1c"},{"test":"datum.ma === 1000","value":"#5a5a5a"}],"value":"#cdcdcd"},"strokeWidth":{"condition":[{"test":"datum.ma === 1800","value":2.2},{"test":"datum.ma === 1000","value":1.6}],"value":1}}},
{"data":{"values":[{}]},"mark":{"type":"rule","color":"#a3a3a3","strokeWidth":1},"encoding":{"y":{"datum":0,"type":"quantitative","scale":{"domain":[0,108],"nice":false},"axis":null}}},
{"data":{"name":"A1"},"mark":{"type":"line","interpolate":"monotone","strokeWidth":2.2,"color":"#2f2f2f","strokeJoin":"round"},"encoding":{"x":{"field":"ma","type":"quantitative","scale":{"domain":[0,3000],"nice":false,"zero":false},"axis":null},"y":{"field":"p","type":"quantitative","scale":{"domain":[0,108],"nice":false},"axis":null}}},
{"data":{"values":[{}]},"mark":{"type":"rule","color":"#1c1c1c","strokeWidth":2.6},"encoding":{"x":{"datum":0,"type":"quantitative","scale":{"domain":[0,3000],"nice":false,"zero":false},"axis":null}}},
{"data":{"values":[{}]},"mark":{"type":"rule","color":"#1c1c1c","strokeWidth":2.6},"encoding":{"x":{"datum":3000,"type":"quantitative","scale":{"domain":[0,3000],"nice":false,"zero":false},"axis":null}}},
{"data":{"values":[{}]},"mark":{"type":"rule","color":"#1c1c1c","strokeWidth":2.6,"strokeCap":"square"},"encoding":{"y":{"datum":108,"type":"quantitative","scale":{"domain":[0,108],"nice":false},"axis":null}}},
{"data":{"values":[{}]},"mark":{"type":"text","align":"right","baseline":"middle","dx":-5,"fontSize":15.5,"lineHeight":18.5,"font":"Liberation Sans","color":"white","stroke":"white","strokeWidth":5,"strokeJoin":"round"},"encoding":{"x":{"datum":3000,"type":"quantitative","scale":{"domain":[0,3000],"nice":false,"zero":false},"axis":null},"y":{"datum":44.7,"type":"quantitative","scale":{"domain":[0,108],"nice":false},"axis":null},"text":{"value":["Mount Morrison","Formation [2/189]"]}}},
{"data":{"values":[{}]},"mark":{"type":"text","align":"right","baseline":"middle","dx":-5,"fontSize":15.5,"lineHeight":18.5,"font":"Liberation Sans","color":"#1c1c1c"},"encoding":{"x":{"datum":3000,"type":"quantitative","scale":{"domain":[0,3000],"nice":false,"zero":false},"axis":null},"y":{"datum":44.7,"type":"quantitative","scale":{"domain":[0,108],"nice":false},"axis":null},"text":{"value":["Mount Morrison","Formation [2/189]"]}}},
{"data":{"values":[{}]},"mark":{"type":"text","align":"left","baseline":"alphabetic","fontSize":18,"font":"Liberation Sans","color":"#1c1c1c"},"encoding":{"x":{"datum":19,"type":"quantitative","scale":{"domain":[0,3000],"nice":false,"zero":false},"axis":null},"y":{"datum":114.5,"type":"quantitative","scale":{"domain":[0,108],"nice":false},"axis":null},"text":{"value":"Eastern Sierra Nevada Pendants"}}},
{"data":{"values":[{}]},"mark":{"type":"text","align":"left","baseline":"alphabetic","fontSize":36,"fontWeight":"bold","font":"Liberation Sans","color":"#1c1c1c"},"encoding":{"x":{"datum":40,"type":"quantitative","scale":{"domain":[0,3000],"nice":false,"zero":false},"axis":null},"y":{"datum":73,"type":"quantitative","scale":{"domain":[0,108],"nice":false},"axis":null},"text":{"value":"A"}}}
]},
{"width":643,"height":94,"layer":[
{"data":{"name":"grid"},"mark":{"type":"rule"},"encoding":{"x":{"field":"ma","type":"quantitative","scale":{"domain":[0,3000],"nice":false,"zero":false},"axis":null},"color":{"condition":[{"test":"datum.ma === 1800","value":"#1c1c1c"},{"test":"datum.ma === 1000","value":"#5a5a5a"}],"value":"#cdcdcd"},"strokeWidth":{"condition":[{"test":"datum.ma === 1800","value":2.2},{"test":"datum.ma === 1000","value":1.6}],"value":1}}},
{"data":{"values":[{}]},"mark":{"type":"rule","color":"#a3a3a3","strokeWidth":1},"encoding":{"y":{"datum":0,"type":"quantitative","scale":{"domain":[0,94],"nice":false},"axis":null}}},
{"data":{"name":"A2"},"mark":{"type":"line","interpolate":"monotone","strokeWidth":2.2,"color":"#2f2f2f","strokeJoin":"round"},"encoding":{"x":{"field":"ma","type":"quantitative","scale":{"domain":[0,3000],"nice":false,"zero":false},"axis":null},"y":{"field":"p","type":"quantitative","scale":{"domain":[0,94],"nice":false},"axis":null}}},
{"data":{"values":[{}]},"mark":{"type":"rule","color":"#1c1c1c","strokeWidth":2.6},"encoding":{"x":{"datum":0,"type":"quantitative","scale":{"domain":[0,3000],"nice":false,"zero":false},"axis":null}}},
{"data":{"values":[{}]},"mark":{"type":"rule","color":"#1c1c1c","strokeWidth":2.6},"encoding":{"x":{"datum":3000,"type":"quantitative","scale":{"domain":[0,3000],"nice":false,"zero":false},"axis":null}}},
{"data":{"values":[{}]},"mark":{"type":"text","align":"right","baseline":"middle","dx":-5,"fontSize":15.5,"lineHeight":18.5,"font":"Liberation Sans","color":"white","stroke":"white","strokeWidth":5,"strokeJoin":"round"},"encoding":{"x":{"datum":3000,"type":"quantitative","scale":{"domain":[0,3000],"nice":false,"zero":false},"axis":null},"y":{"datum":43.9,"type":"quantitative","scale":{"domain":[0,94],"nice":false},"axis":null},"text":{"value":["SE Ritter Range","pendant [1/43]"]}}},
{"data":{"values":[{}]},"mark":{"type":"text","align":"right","baseline":"middle","dx":-5,"fontSize":15.5,"lineHeight":18.5,"font":"Liberation Sans","color":"#1c1c1c"},"encoding":{"x":{"datum":3000,"type":"quantitative","scale":{"domain":[0,3000],"nice":false,"zero":false},"axis":null},"y":{"datum":43.9,"type":"quantitative","scale":{"domain":[0,94],"nice":false},"axis":null},"text":{"value":["SE Ritter Range","pendant [1/43]"]}}}
]},
{"width":643,"height":75,"layer":[
{"data":{"name":"grid"},"mark":{"type":"rule"},"encoding":{"x":{"field":"ma","type":"quantitative","scale":{"domain":[0,3000],"nice":false,"zero":false},"axis":null},"color":{"condition":[{"test":"datum.ma === 1800","value":"#1c1c1c"},{"test":"datum.ma === 1000","value":"#5a5a5a"}],"value":"#cdcdcd"},"strokeWidth":{"condition":[{"test":"datum.ma === 1800","value":2.2},{"test":"datum.ma === 1000","value":1.6}],"value":1}}},
{"data":{"name":"A3"},"mark":{"type":"line","interpolate":"monotone","strokeWidth":2.2,"color":"#9ea2a5","strokeJoin":"round"},"encoding":{"x":{"field":"ma","type":"quantitative","scale":{"domain":[0,3000],"nice":false,"zero":false},"axis":null},"y":{"field":"p","type":"quantitative","scale":{"domain":[0,75],"nice":false},"axis":null}}},
{"data":{"values":[{}]},"mark":{"type":"rule","color":"#1c1c1c","strokeWidth":2.6},"encoding":{"x":{"datum":0,"type":"quantitative","scale":{"domain":[0,3000],"nice":false,"zero":false},"axis":null}}},
{"data":{"values":[{}]},"mark":{"type":"rule","color":"#1c1c1c","strokeWidth":2.6},"encoding":{"x":{"datum":3000,"type":"quantitative","scale":{"domain":[0,3000],"nice":false,"zero":false},"axis":null}}},
{"data":{"values":[{}]},"mark":{"type":"rule","color":"#1c1c1c","strokeWidth":2.6,"strokeCap":"square"},"encoding":{"y":{"datum":0,"type":"quantitative","scale":{"domain":[0,75],"nice":false},"axis":null}}},
{"data":{"values":[{}]},"mark":{"type":"text","align":"right","baseline":"middle","dx":-5,"fontSize":15.5,"lineHeight":18.5,"font":"Liberation Sans","color":"white","stroke":"white","strokeWidth":5,"strokeJoin":"round"},"encoding":{"x":{"datum":3000,"type":"quantitative","scale":{"domain":[0,3000],"nice":false,"zero":false},"axis":null},"y":{"datum":37.5,"type":"quantitative","scale":{"domain":[0,75],"nice":false},"axis":null},"text":{"value":["Mount Pinchot pendant","quartzite [1/83]"]}}},
{"data":{"values":[{}]},"mark":{"type":"text","align":"right","baseline":"middle","dx":-5,"fontSize":15.5,"lineHeight":18.5,"font":"Liberation Sans","color":"#1c1c1c"},"encoding":{"x":{"datum":3000,"type":"quantitative","scale":{"domain":[0,3000],"nice":false,"zero":false},"axis":null},"y":{"datum":37.5,"type":"quantitative","scale":{"domain":[0,75],"nice":false},"axis":null},"text":{"value":["Mount Pinchot pendant","quartzite [1/83]"]}}}
]},
{"width":643,"height":27,"data":{"values":[{}]},"mark":{"type":"text","text":""},"encoding":{}},
{"width":643,"height":109,"layer":[
{"data":{"name":"grid"},"mark":{"type":"rule"},"encoding":{"x":{"field":"ma","type":"quantitative","scale":{"domain":[0,3000],"nice":false,"zero":false},"axis":null},"color":{"condition":[{"test":"datum.ma === 1800","value":"#1c1c1c"},{"test":"datum.ma === 1000","value":"#5a5a5a"}],"value":"#cdcdcd"},"strokeWidth":{"condition":[{"test":"datum.ma === 1800","value":2.2},{"test":"datum.ma === 1000","value":1.6}],"value":1}}},
{"data":{"values":[{}]},"mark":{"type":"rule","color":"#a3a3a3","strokeWidth":1},"encoding":{"y":{"datum":0,"type":"quantitative","scale":{"domain":[0,109],"nice":false},"axis":null}}},
{"data":{"name":"B1"},"mark":{"type":"line","interpolate":"monotone","strokeWidth":2.2,"color":"#959a9d","strokeJoin":"round"},"encoding":{"x":{"field":"ma","type":"quantitative","scale":{"domain":[0,3000],"nice":false,"zero":false},"axis":null},"y":{"field":"p","type":"quantitative","scale":{"domain":[0,109],"nice":false},"axis":null}}},
{"data":{"values":[{}]},"mark":{"type":"rule","color":"#1c1c1c","strokeWidth":2.6},"encoding":{"x":{"datum":0,"type":"quantitative","scale":{"domain":[0,3000],"nice":false,"zero":false},"axis":null}}},
{"data":{"values":[{}]},"mark":{"type":"rule","color":"#1c1c1c","strokeWidth":2.6},"encoding":{"x":{"datum":3000,"type":"quantitative","scale":{"domain":[0,3000],"nice":false,"zero":false},"axis":null}}},
{"data":{"values":[{}]},"mark":{"type":"rule","color":"#1c1c1c","strokeWidth":2.6,"strokeCap":"square"},"encoding":{"y":{"datum":109,"type":"quantitative","scale":{"domain":[0,109],"nice":false},"axis":null}}},
{"data":{"values":[{}]},"mark":{"type":"text","align":"right","baseline":"middle","dx":-5,"fontSize":15.5,"lineHeight":18.5,"font":"Liberation Sans","color":"white","stroke":"white","strokeWidth":5,"strokeJoin":"round"},"encoding":{"x":{"datum":3000,"type":"quantitative","scale":{"domain":[0,3000],"nice":false,"zero":false},"axis":null},"y":{"datum":62,"type":"quantitative","scale":{"domain":[0,109],"nice":false},"axis":null},"text":{"value":"Sherlock Creek [1/95]"}}},
{"data":{"values":[{}]},"mark":{"type":"text","align":"right","baseline":"middle","dx":-5,"fontSize":15.5,"lineHeight":18.5,"font":"Liberation Sans","color":"#1c1c1c"},"encoding":{"x":{"datum":3000,"type":"quantitative","scale":{"domain":[0,3000],"nice":false,"zero":false},"axis":null},"y":{"datum":62,"type":"quantitative","scale":{"domain":[0,109],"nice":false},"axis":null},"text":{"value":"Sherlock Creek [1/95]"}}},
{"data":{"values":[{}]},"mark":{"type":"text","align":"left","baseline":"alphabetic","fontSize":18,"font":"Liberation Sans","color":"#1c1c1c"},"encoding":{"x":{"datum":19,"type":"quantitative","scale":{"domain":[0,3000],"nice":false,"zero":false},"axis":null},"y":{"datum":115.5,"type":"quantitative","scale":{"domain":[0,109],"nice":false},"axis":null},"text":{"value":"Snow Lake Terrane and Western Metamorphic Belt"}}},
{"data":{"values":[{}]},"mark":{"type":"text","align":"left","baseline":"alphabetic","fontSize":36,"fontWeight":"bold","font":"Liberation Sans","color":"#1c1c1c"},"encoding":{"x":{"datum":37,"type":"quantitative","scale":{"domain":[0,3000],"nice":false,"zero":false},"axis":null},"y":{"datum":73.5,"type":"quantitative","scale":{"domain":[0,109],"nice":false},"axis":null},"text":{"value":"B"}}}
]},
{"width":643,"height":73,"layer":[
{"data":{"name":"grid"},"mark":{"type":"rule"},"encoding":{"x":{"field":"ma","type":"quantitative","scale":{"domain":[0,3000],"nice":false,"zero":false},"axis":null},"color":{"condition":[{"test":"datum.ma === 1800","value":"#1c1c1c"},{"test":"datum.ma === 1000","value":"#5a5a5a"}],"value":"#cdcdcd"},"strokeWidth":{"condition":[{"test":"datum.ma === 1800","value":2.2},{"test":"datum.ma === 1000","value":1.6}],"value":1}}},
{"data":{"values":[{}]},"mark":{"type":"rule","color":"#a3a3a3","strokeWidth":1},"encoding":{"y":{"datum":0,"type":"quantitative","scale":{"domain":[0,73],"nice":false},"axis":null}}},
{"data":{"name":"B2"},"mark":{"type":"line","interpolate":"monotone","strokeWidth":2.2,"color":"#959a9d","strokeJoin":"round"},"encoding":{"x":{"field":"ma","type":"quantitative","scale":{"domain":[0,3000],"nice":false,"zero":false},"axis":null},"y":{"field":"p","type":"quantitative","scale":{"domain":[0,73],"nice":false},"axis":null}}},
{"data":{"values":[{}]},"mark":{"type":"rule","color":"#1c1c1c","strokeWidth":2.6},"encoding":{"x":{"datum":0,"type":"quantitative","scale":{"domain":[0,3000],"nice":false,"zero":false},"axis":null}}},
{"data":{"values":[{}]},"mark":{"type":"rule","color":"#1c1c1c","strokeWidth":2.6},"encoding":{"x":{"datum":3000,"type":"quantitative","scale":{"domain":[0,3000],"nice":false,"zero":false},"axis":null}}},
{"data":{"values":[{}]},"mark":{"type":"text","align":"right","baseline":"middle","dx":-5,"fontSize":15.5,"lineHeight":18.5,"font":"Liberation Sans","color":"white","stroke":"white","strokeWidth":5,"strokeJoin":"round"},"encoding":{"x":{"datum":3000,"type":"quantitative","scale":{"domain":[0,3000],"nice":false,"zero":false},"axis":null},"y":{"datum":43.3,"type":"quantitative","scale":{"domain":[0,73],"nice":false},"axis":null},"text":{"value":"Iron Mountain pendant [1/87]"}}},
{"data":{"values":[{}]},"mark":{"type":"text","align":"right","baseline":"middle","dx":-5,"fontSize":15.5,"lineHeight":18.5,"font":"Liberation Sans","color":"#1c1c1c"},"encoding":{"x":{"datum":3000,"type":"quantitative","scale":{"domain":[0,3000],"nice":false,"zero":false},"axis":null},"y":{"datum":43.3,"type":"quantitative","scale":{"domain":[0,73],"nice":false},"axis":null},"text":{"value":"Iron Mountain pendant [1/87]"}}}
]},
{"width":643,"height":83,"layer":[
{"data":{"name":"grid"},"mark":{"type":"rule"},"encoding":{"x":{"field":"ma","type":"quantitative","scale":{"domain":[0,3000],"nice":false,"zero":false},"axis":null},"color":{"condition":[{"test":"datum.ma === 1800","value":"#1c1c1c"},{"test":"datum.ma === 1000","value":"#5a5a5a"}],"value":"#cdcdcd"},"strokeWidth":{"condition":[{"test":"datum.ma === 1800","value":2.2},{"test":"datum.ma === 1000","value":1.6}],"value":1}}},
{"data":{"values":[{}]},"mark":{"type":"rule","color":"#a3a3a3","strokeWidth":1},"encoding":{"y":{"datum":0,"type":"quantitative","scale":{"domain":[0,83],"nice":false},"axis":null}}},
{"data":{"name":"B3"},"mark":{"type":"line","interpolate":"monotone","strokeWidth":2.2,"color":"#959a9d","strokeJoin":"round"},"encoding":{"x":{"field":"ma","type":"quantitative","scale":{"domain":[0,3000],"nice":false,"zero":false},"axis":null},"y":{"field":"p","type":"quantitative","scale":{"domain":[0,83],"nice":false},"axis":null}}},
{"data":{"values":[{}]},"mark":{"type":"rule","color":"#1c1c1c","strokeWidth":2.6},"encoding":{"x":{"datum":0,"type":"quantitative","scale":{"domain":[0,3000],"nice":false,"zero":false},"axis":null}}},
{"data":{"values":[{}]},"mark":{"type":"rule","color":"#1c1c1c","strokeWidth":2.6},"encoding":{"x":{"datum":3000,"type":"quantitative","scale":{"domain":[0,3000],"nice":false,"zero":false},"axis":null}}},
{"data":{"values":[{}]},"mark":{"type":"text","align":"right","baseline":"middle","dx":-5,"fontSize":15.5,"lineHeight":18.5,"font":"Liberation Sans","color":"white","stroke":"white","strokeWidth":5,"strokeJoin":"round"},"encoding":{"x":{"datum":3000,"type":"quantitative","scale":{"domain":[0,3000],"nice":false,"zero":false},"axis":null},"y":{"datum":41.7,"type":"quantitative","scale":{"domain":[0,83],"nice":false},"axis":null},"text":{"value":"Boyden Cave pendant [3/244]"}}},
{"data":{"values":[{}]},"mark":{"type":"text","align":"right","baseline":"middle","dx":-5,"fontSize":15.5,"lineHeight":18.5,"font":"Liberation Sans","color":"#1c1c1c"},"encoding":{"x":{"datum":3000,"type":"quantitative","scale":{"domain":[0,3000],"nice":false,"zero":false},"axis":null},"y":{"datum":41.7,"type":"quantitative","scale":{"domain":[0,83],"nice":false},"axis":null},"text":{"value":"Boyden Cave pendant [3/244]"}}}
]},
{"width":643,"height":68,"layer":[
{"data":{"name":"grid"},"mark":{"type":"rule"},"encoding":{"x":{"field":"ma","type":"quantitative","scale":{"domain":[0,3000],"nice":false,"zero":false},"axis":null},"color":{"condition":[{"test":"datum.ma === 1800","value":"#1c1c1c"},{"test":"datum.ma === 1000","value":"#5a5a5a"}],"value":"#cdcdcd"},"strokeWidth":{"condition":[{"test":"datum.ma === 1800","value":2.2},{"test":"datum.ma === 1000","value":1.6}],"value":1}}},
{"data":{"name":"B4"},"mark":{"type":"line","interpolate":"monotone","strokeWidth":2.2,"color":"#959a9d","strokeJoin":"round"},"encoding":{"x":{"field":"ma","type":"quantitative","scale":{"domain":[0,3000],"nice":false,"zero":false},"axis":null},"y":{"field":"p","type":"quantitative","scale":{"domain":[0,68],"nice":false},"axis":null}}},
{"data":{"values":[{}]},"mark":{"type":"rule","color":"#1c1c1c","strokeWidth":2.6},"encoding":{"x":{"datum":0,"type":"quantitative","scale":{"domain":[0,3000],"nice":false,"zero":false},"axis":null}}},
{"data":{"values":[{}]},"mark":{"type":"rule","color":"#1c1c1c","strokeWidth":2.6},"encoding":{"x":{"datum":3000,"type":"quantitative","scale":{"domain":[0,3000],"nice":false,"zero":false},"axis":null}}},
{"data":{"values":[{}]},"mark":{"type":"rule","color":"#1c1c1c","strokeWidth":2.6,"strokeCap":"square"},"encoding":{"y":{"datum":0,"type":"quantitative","scale":{"domain":[0,68],"nice":false},"axis":null}}},
{"data":{"values":[{}]},"mark":{"type":"text","align":"right","baseline":"middle","dx":-5,"fontSize":15.5,"lineHeight":18.5,"font":"Liberation Sans","color":"white","stroke":"white","strokeWidth":5,"strokeJoin":"round"},"encoding":{"x":{"datum":3000,"type":"quantitative","scale":{"domain":[0,3000],"nice":false,"zero":false},"axis":null},"y":{"datum":34.7,"type":"quantitative","scale":{"domain":[0,68],"nice":false},"axis":null},"text":{"value":"Crane Flat area [1/88]"}}},
{"data":{"values":[{}]},"mark":{"type":"text","align":"right","baseline":"middle","dx":-5,"fontSize":15.5,"lineHeight":18.5,"font":"Liberation Sans","color":"#1c1c1c"},"encoding":{"x":{"datum":3000,"type":"quantitative","scale":{"domain":[0,3000],"nice":false,"zero":false},"axis":null},"y":{"datum":34.7,"type":"quantitative","scale":{"domain":[0,68],"nice":false},"axis":null},"text":{"value":"Crane Flat area [1/88]"}}}
]},
{"width":643,"height":29,"data":{"values":[{}]},"mark":{"type":"text","text":""},"encoding":{}},
{"width":643,"height":124,"layer":[
{"data":{"name":"grid"},"mark":{"type":"rule"},"encoding":{"x":{"field":"ma","type":"quantitative","scale":{"domain":[0,3000],"nice":false,"zero":false},"axis":null},"color":{"condition":[{"test":"datum.ma === 1800","value":"#1c1c1c"},{"test":"datum.ma === 1000","value":"#5a5a5a"}],"value":"#cdcdcd"},"strokeWidth":{"condition":[{"test":"datum.ma === 1800","value":2.2},{"test":"datum.ma === 1000","value":1.6}],"value":1}}},
{"data":{"values":[{}]},"mark":{"type":"rule","color":"#a3a3a3","strokeWidth":1},"encoding":{"y":{"datum":0,"type":"quantitative","scale":{"domain":[0,124],"nice":false},"axis":null}}},
{"data":{"name":"C1"},"mark":{"type":"line","interpolate":"monotone","strokeWidth":2.2,"color":"#c2c5c7","strokeJoin":"round"},"encoding":{"x":{"field":"ma","type":"quantitative","scale":{"domain":[0,3000],"nice":false,"zero":false},"axis":null},"y":{"field":"p","type":"quantitative","scale":{"domain":[0,124],"nice":false},"axis":null}}},
{"data":{"values":[{}]},"mark":{"type":"rule","color":"#1c1c1c","strokeWidth":2.6},"encoding":{"x":{"datum":0,"type":"quantitative","scale":{"domain":[0,3000],"nice":false,"zero":false},"axis":null}}},
{"data":{"values":[{}]},"mark":{"type":"rule","color":"#1c1c1c","strokeWidth":2.6},"encoding":{"x":{"datum":3000,"type":"quantitative","scale":{"domain":[0,3000],"nice":false,"zero":false},"axis":null}}},
{"data":{"values":[{}]},"mark":{"type":"rule","color":"#1c1c1c","strokeWidth":2.6,"strokeCap":"square"},"encoding":{"y":{"datum":124,"type":"quantitative","scale":{"domain":[0,124],"nice":false},"axis":null}}},
{"data":{"values":[{}]},"mark":{"type":"text","align":"right","baseline":"middle","dx":-5,"fontSize":15.5,"lineHeight":18.5,"font":"Liberation Sans","color":"white","stroke":"white","strokeWidth":5,"strokeJoin":"round"},"encoding":{"x":{"datum":3000,"type":"quantitative","scale":{"domain":[0,3000],"nice":false,"zero":false},"axis":null},"y":{"datum":64.3,"type":"quantitative","scale":{"domain":[0,124],"nice":false},"axis":null},"text":{"value":["Kern Plateau pendants,","El Paso terrane [3/240]"]}}},
{"data":{"values":[{}]},"mark":{"type":"text","align":"right","baseline":"middle","dx":-5,"fontSize":15.5,"lineHeight":18.5,"font":"Liberation Sans","color":"#1c1c1c"},"encoding":{"x":{"datum":3000,"type":"quantitative","scale":{"domain":[0,3000],"nice":false,"zero":false},"axis":null},"y":{"datum":64.3,"type":"quantitative","scale":{"domain":[0,124],"nice":false},"axis":null},"text":{"value":["Kern Plateau pendants,","El Paso terrane [3/240]"]}}},
{"data":{"values":[{}]},"mark":{"type":"text","align":"left","baseline":"alphabetic","fontSize":18,"font":"Liberation Sans","color":"#1c1c1c"},"encoding":{"x":{"datum":19,"type":"quantitative","scale":{"domain":[0,3000],"nice":false,"zero":false},"axis":null},"y":{"datum":130.5,"type":"quantitative","scale":{"domain":[0,124],"nice":false},"axis":null},"text":{"value":"Southern Sierra Nevada"}}},
{"data":{"values":[{}]},"mark":{"type":"text","align":"left","baseline":"alphabetic","fontSize":36,"fontWeight":"bold","font":"Liberation Sans","color":"#1c1c1c"},"encoding":{"x":{"datum":37,"type":"quantitative","scale":{"domain":[0,3000],"nice":false,"zero":false},"axis":null},"y":{"datum":89,"type":"quantitative","scale":{"domain":[0,124],"nice":false},"axis":null},"text":{"value":"C"}}}
]},
{"width":643,"height":99,"layer":[
{"data":{"name":"grid"},"mark":{"type":"rule"},"encoding":{"x":{"field":"ma","type":"quantitative","scale":{"domain":[0,3000],"nice":false,"zero":false},"axis":null},"color":{"condition":[{"test":"datum.ma === 1800","value":"#1c1c1c"},{"test":"datum.ma === 1000","value":"#5a5a5a"}],"value":"#cdcdcd"},"strokeWidth":{"condition":[{"test":"datum.ma === 1800","value":2.2},{"test":"datum.ma === 1000","value":1.6}],"value":1}}},
{"data":{"values":[{}]},"mark":{"type":"rule","color":"#a3a3a3","strokeWidth":1},"encoding":{"y":{"datum":0,"type":"quantitative","scale":{"domain":[0,99],"nice":false},"axis":null}}},
{"data":{"name":"C2"},"mark":{"type":"line","interpolate":"monotone","strokeWidth":2.2,"color":"#8e9396","strokeJoin":"round"},"encoding":{"x":{"field":"ma","type":"quantitative","scale":{"domain":[0,3000],"nice":false,"zero":false},"axis":null},"y":{"field":"p","type":"quantitative","scale":{"domain":[0,99],"nice":false},"axis":null}}},
{"data":{"values":[{}]},"mark":{"type":"rule","color":"#1c1c1c","strokeWidth":2.6},"encoding":{"x":{"datum":0,"type":"quantitative","scale":{"domain":[0,3000],"nice":false,"zero":false},"axis":null}}},
{"data":{"values":[{}]},"mark":{"type":"rule","color":"#1c1c1c","strokeWidth":2.6},"encoding":{"x":{"datum":3000,"type":"quantitative","scale":{"domain":[0,3000],"nice":false,"zero":false},"axis":null}}},
{"data":{"values":[{}]},"mark":{"type":"text","align":"right","baseline":"middle","dx":-5,"fontSize":15.5,"lineHeight":18.5,"font":"Liberation Sans","color":"white","stroke":"white","strokeWidth":5,"strokeJoin":"round"},"encoding":{"x":{"datum":3000,"type":"quantitative","scale":{"domain":[0,3000],"nice":false,"zero":false},"axis":null},"y":{"datum":57.5,"type":"quantitative","scale":{"domain":[0,99],"nice":false},"axis":null},"text":{"value":["~1700 Ma group,","Kernville terrane [2/169]"]}}},
{"data":{"values":[{}]},"mark":{"type":"text","align":"right","baseline":"middle","dx":-5,"fontSize":15.5,"lineHeight":18.5,"font":"Liberation Sans","color":"#1c1c1c"},"encoding":{"x":{"datum":3000,"type":"quantitative","scale":{"domain":[0,3000],"nice":false,"zero":false},"axis":null},"y":{"datum":57.5,"type":"quantitative","scale":{"domain":[0,99],"nice":false},"axis":null},"text":{"value":["~1700 Ma group,","Kernville terrane [2/169]"]}}}
]},
{"width":643,"height":108,"layer":[
{"data":{"name":"grid"},"mark":{"type":"rule"},"encoding":{"x":{"field":"ma","type":"quantitative","scale":{"domain":[0,3000],"nice":false,"zero":false},"axis":null},"color":{"condition":[{"test":"datum.ma === 1800","value":"#1c1c1c"},{"test":"datum.ma === 1000","value":"#5a5a5a"}],"value":"#cdcdcd"},"strokeWidth":{"condition":[{"test":"datum.ma === 1800","value":2.2},{"test":"datum.ma === 1000","value":1.6}],"value":1}}},
{"data":{"name":"C3"},"mark":{"type":"line","interpolate":"monotone","strokeWidth":2.2,"color":"#8e9396","strokeJoin":"round"},"encoding":{"x":{"field":"ma","type":"quantitative","scale":{"domain":[0,3000],"nice":false,"zero":false},"axis":null},"y":{"field":"p","type":"quantitative","scale":{"domain":[0,108],"nice":false},"axis":null}}},
{"data":{"values":[{}]},"mark":{"type":"rule","color":"#1c1c1c","strokeWidth":2.6},"encoding":{"x":{"datum":0,"type":"quantitative","scale":{"domain":[0,3000],"nice":false,"zero":false},"axis":null}}},
{"data":{"values":[{}]},"mark":{"type":"rule","color":"#1c1c1c","strokeWidth":2.6},"encoding":{"x":{"datum":3000,"type":"quantitative","scale":{"domain":[0,3000],"nice":false,"zero":false},"axis":null}}},
{"data":{"values":[{}]},"mark":{"type":"rule","color":"#1c1c1c","strokeWidth":2.6,"strokeCap":"square"},"encoding":{"y":{"datum":0,"type":"quantitative","scale":{"domain":[0,108],"nice":false},"axis":null}}},
{"data":{"values":[{}]},"mark":{"type":"text","align":"right","baseline":"middle","dx":-5,"fontSize":15.5,"lineHeight":18.5,"font":"Liberation Sans","color":"white","stroke":"white","strokeWidth":5,"strokeJoin":"round"},"encoding":{"x":{"datum":3000,"type":"quantitative","scale":{"domain":[0,3000],"nice":false,"zero":false},"axis":null},"y":{"datum":47.2,"type":"quantitative","scale":{"domain":[0,108],"nice":false},"axis":null},"text":{"value":["~1100 Ma group,","Kernville terrane [1/104]"]}}},
{"data":{"values":[{}]},"mark":{"type":"text","align":"right","baseline":"middle","dx":-5,"fontSize":15.5,"lineHeight":18.5,"font":"Liberation Sans","color":"#1c1c1c"},"encoding":{"x":{"datum":3000,"type":"quantitative","scale":{"domain":[0,3000],"nice":false,"zero":false},"axis":null},"y":{"datum":47.2,"type":"quantitative","scale":{"domain":[0,108],"nice":false},"axis":null},"text":{"value":["~1100 Ma group,","Kernville terrane [1/104]"]}}}
]},
{"width":643,"height":30,"data":{"values":[{}]},"mark":{"type":"text","text":""},"encoding":{}},
{"width":643,"height":79,"layer":[
{"data":{"name":"grid"},"mark":{"type":"rule"},"encoding":{"x":{"field":"ma","type":"quantitative","scale":{"domain":[0,3000],"nice":false,"zero":false},"axis":null},"color":{"condition":[{"test":"datum.ma === 1800","value":"#1c1c1c"},{"test":"datum.ma === 1000","value":"#5a5a5a"}],"value":"#cdcdcd"},"strokeWidth":{"condition":[{"test":"datum.ma === 1800","value":2.2},{"test":"datum.ma === 1000","value":1.6}],"value":1}}},
{"data":{"values":[{}]},"mark":{"type":"rule","color":"#a3a3a3","strokeWidth":1},"encoding":{"y":{"datum":0,"type":"quantitative","scale":{"domain":[0,79],"nice":false},"axis":null}}},
{"data":{"name":"D1"},"mark":{"type":"line","interpolate":"monotone","strokeWidth":2.2,"color":"#9a9ea1","strokeJoin":"round"},"encoding":{"x":{"field":"ma","type":"quantitative","scale":{"domain":[0,3000],"nice":false,"zero":false},"axis":null},"y":{"field":"p","type":"quantitative","scale":{"domain":[0,79],"nice":false},"axis":null}}},
{"data":{"values":[{}]},"mark":{"type":"rule","color":"#1c1c1c","strokeWidth":2.6},"encoding":{"x":{"datum":0,"type":"quantitative","scale":{"domain":[0,3000],"nice":false,"zero":false},"axis":null}}},
{"data":{"values":[{}]},"mark":{"type":"rule","color":"#1c1c1c","strokeWidth":2.6},"encoding":{"x":{"datum":3000,"type":"quantitative","scale":{"domain":[0,3000],"nice":false,"zero":false},"axis":null}}},
{"data":{"values":[{}]},"mark":{"type":"rule","color":"#1c1c1c","strokeWidth":2.6,"strokeCap":"square"},"encoding":{"y":{"datum":79,"type":"quantitative","scale":{"domain":[0,79],"nice":false},"axis":null}}},
{"data":{"values":[{}]},"mark":{"type":"text","align":"right","baseline":"middle","dx":-5,"fontSize":15.5,"lineHeight":18.5,"font":"Liberation Sans","color":"white","stroke":"white","strokeWidth":5,"strokeJoin":"round"},"encoding":{"x":{"datum":3000,"type":"quantitative","scale":{"domain":[0,3000],"nice":false,"zero":false},"axis":null},"y":{"datum":43.7,"type":"quantitative","scale":{"domain":[0,79],"nice":false},"axis":null},"text":{"value":["Lower Permian Owens","Valley Group [1/83]"]}}},
{"data":{"values":[{}]},"mark":{"type":"text","align":"right","baseline":"middle","dx":-5,"fontSize":15.5,"lineHeight":18.5,"font":"Liberation Sans","color":"#1c1c1c"},"encoding":{"x":{"datum":3000,"type":"quantitative","scale":{"domain":[0,3000],"nice":false,"zero":false},"axis":null},"y":{"datum":43.7,"type":"quantitative","scale":{"domain":[0,79],"nice":false},"axis":null},"text":{"value":["Lower Permian Owens","Valley Group [1/83]"]}}},
{"data":{"values":[{}]},"mark":{"type":"text","align":"left","baseline":"alphabetic","fontSize":18,"font":"Liberation Sans","color":"#1c1c1c"},"encoding":{"x":{"datum":19,"type":"quantitative","scale":{"domain":[0,3000],"nice":false,"zero":false},"axis":null},"y":{"datum":85.5,"type":"quantitative","scale":{"domain":[0,79],"nice":false},"axis":null},"text":{"value":"Death Valley Facies, Southern Inyo Mountains"}}},
{"data":{"values":[{}]},"mark":{"type":"text","align":"left","baseline":"alphabetic","fontSize":36,"fontWeight":"bold","font":"Liberation Sans","color":"#1c1c1c"},"encoding":{"x":{"datum":37,"type":"quantitative","scale":{"domain":[0,3000],"nice":false,"zero":false},"axis":null},"y":{"datum":43.5,"type":"quantitative","scale":{"domain":[0,79],"nice":false},"axis":null},"text":{"value":"D"}}}
]},
{"width":643,"height":79,"layer":[
{"data":{"name":"grid"},"mark":{"type":"rule"},"encoding":{"x":{"field":"ma","type":"quantitative","scale":{"domain":[0,3000],"nice":false,"zero":false},"axis":null},"color":{"condition":[{"test":"datum.ma === 1800","value":"#1c1c1c"},{"test":"datum.ma === 1000","value":"#5a5a5a"}],"value":"#cdcdcd"},"strokeWidth":{"condition":[{"test":"datum.ma === 1800","value":2.2},{"test":"datum.ma === 1000","value":1.6}],"value":1}}},
{"data":{"values":[{}]},"mark":{"type":"rule","color":"#a3a3a3","strokeWidth":1},"encoding":{"y":{"datum":0,"type":"quantitative","scale":{"domain":[0,79],"nice":false},"axis":null}}},
{"data":{"name":"D2"},"mark":{"type":"line","interpolate":"monotone","strokeWidth":2.2,"color":"#9a9ea1","strokeJoin":"round"},"encoding":{"x":{"field":"ma","type":"quantitative","scale":{"domain":[0,3000],"nice":false,"zero":false},"axis":null},"y":{"field":"p","type":"quantitative","scale":{"domain":[0,79],"nice":false},"axis":null}}},
{"data":{"values":[{}]},"mark":{"type":"rule","color":"#1c1c1c","strokeWidth":2.6},"encoding":{"x":{"datum":0,"type":"quantitative","scale":{"domain":[0,3000],"nice":false,"zero":false},"axis":null}}},
{"data":{"values":[{}]},"mark":{"type":"rule","color":"#1c1c1c","strokeWidth":2.6},"encoding":{"x":{"datum":3000,"type":"quantitative","scale":{"domain":[0,3000],"nice":false,"zero":false},"axis":null}}},
{"data":{"values":[{}]},"mark":{"type":"text","align":"right","baseline":"middle","dx":-5,"fontSize":15.5,"lineHeight":18.5,"font":"Liberation Sans","color":"white","stroke":"white","strokeWidth":5,"strokeJoin":"round"},"encoding":{"x":{"datum":3000,"type":"quantitative","scale":{"domain":[0,3000],"nice":false,"zero":false},"axis":null},"y":{"datum":38.2,"type":"quantitative","scale":{"domain":[0,79],"nice":false},"axis":null},"text":{"value":["Mississippian Mexican","Spring Formation [1/90]"]}}},
{"data":{"values":[{}]},"mark":{"type":"text","align":"right","baseline":"middle","dx":-5,"fontSize":15.5,"lineHeight":18.5,"font":"Liberation Sans","color":"#1c1c1c"},"encoding":{"x":{"datum":3000,"type":"quantitative","scale":{"domain":[0,3000],"nice":false,"zero":false},"axis":null},"y":{"datum":38.2,"type":"quantitative","scale":{"domain":[0,79],"nice":false},"axis":null},"text":{"value":["Mississippian Mexican","Spring Formation [1/90]"]}}}
]},
{"width":643,"height":100,"layer":[
{"data":{"name":"grid"},"mark":{"type":"rule"},"encoding":{"x":{"field":"ma","type":"quantitative","scale":{"domain":[0,3000],"nice":false,"zero":false},"axis":null},"color":{"condition":[{"test":"datum.ma === 1800","value":"#1c1c1c"},{"test":"datum.ma === 1000","value":"#5a5a5a"}],"value":"#cdcdcd"},"strokeWidth":{"condition":[{"test":"datum.ma === 1800","value":2.2},{"test":"datum.ma === 1000","value":1.6}],"value":1}}},
{"data":{"values":[{}]},"mark":{"type":"rule","color":"#a3a3a3","strokeWidth":1},"encoding":{"y":{"datum":0,"type":"quantitative","scale":{"domain":[0,100],"nice":false},"axis":null}}},
{"data":{"name":"D3"},"mark":{"type":"line","interpolate":"monotone","strokeWidth":2.2,"color":"#9a9ea1","strokeJoin":"round"},"encoding":{"x":{"field":"ma","type":"quantitative","scale":{"domain":[0,3000],"nice":false,"zero":false},"axis":null},"y":{"field":"p","type":"quantitative","scale":{"domain":[0,100],"nice":false},"axis":null}}},
{"data":{"values":[{}]},"mark":{"type":"rule","color":"#1c1c1c","strokeWidth":2.6},"encoding":{"x":{"datum":0,"type":"quantitative","scale":{"domain":[0,3000],"nice":false,"zero":false},"axis":null}}},
{"data":{"values":[{}]},"mark":{"type":"rule","color":"#1c1c1c","strokeWidth":2.6},"encoding":{"x":{"datum":3000,"type":"quantitative","scale":{"domain":[0,3000],"nice":false,"zero":false},"axis":null}}},
{"data":{"values":[{}]},"mark":{"type":"text","align":"right","baseline":"middle","dx":-5,"fontSize":15.5,"lineHeight":18.5,"font":"Liberation Sans","color":"white","stroke":"white","strokeWidth":5,"strokeJoin":"round"},"encoding":{"x":{"datum":3000,"type":"quantitative","scale":{"domain":[0,3000],"nice":false,"zero":false},"axis":null},"y":{"datum":45.8,"type":"quantitative","scale":{"domain":[0,100],"nice":false},"axis":null},"text":{"value":["Devonian Lost Burro\u00a0","Formation [1/83]"]}}},
{"data":{"values":[{}]},"mark":{"type":"text","align":"right","baseline":"middle","dx":-5,"fontSize":15.5,"lineHeight":18.5,"font":"Liberation Sans","color":"#1c1c1c"},"encoding":{"x":{"datum":3000,"type":"quantitative","scale":{"domain":[0,3000],"nice":false,"zero":false},"axis":null},"y":{"datum":45.8,"type":"quantitative","scale":{"domain":[0,100],"nice":false},"axis":null},"text":{"value":["Devonian Lost Burro\u00a0","Formation [1/83]"]}}}
]},
{"width":643,"height":122,"layer":[
{"data":{"name":"grid"},"mark":{"type":"rule"},"encoding":{"x":{"field":"ma","type":"quantitative","scale":{"domain":[0,3000],"nice":false,"zero":false},"axis":null},"color":{"condition":[{"test":"datum.ma === 1800","value":"#1c1c1c"},{"test":"datum.ma === 1000","value":"#5a5a5a"}],"value":"#cdcdcd"},"strokeWidth":{"condition":[{"test":"datum.ma === 1800","value":2.2},{"test":"datum.ma === 1000","value":1.6}],"value":1}}},
{"data":{"name":"D4"},"mark":{"type":"line","interpolate":"monotone","strokeWidth":2.2,"color":"#9a9ea1","strokeJoin":"round"},"encoding":{"x":{"field":"ma","type":"quantitative","scale":{"domain":[0,3000],"nice":false,"zero":false},"axis":null},"y":{"field":"p","type":"quantitative","scale":{"domain":[0,122],"nice":false},"axis":null}}},
{"data":{"values":[{}]},"mark":{"type":"rule","color":"#1c1c1c","strokeWidth":2.6},"encoding":{"x":{"datum":0,"type":"quantitative","scale":{"domain":[0,3000],"nice":false,"zero":false},"axis":null}}},
{"data":{"values":[{}]},"mark":{"type":"rule","color":"#1c1c1c","strokeWidth":2.6},"encoding":{"x":{"datum":3000,"type":"quantitative","scale":{"domain":[0,3000],"nice":false,"zero":false},"axis":null}}},
{"data":{"values":[{}]},"mark":{"type":"rule","color":"#1c1c1c","strokeWidth":2.6,"strokeCap":"square"},"encoding":{"y":{"datum":0,"type":"quantitative","scale":{"domain":[0,122],"nice":false},"axis":null}}},
{"data":{"values":[{}]},"mark":{"type":"text","align":"right","baseline":"middle","dx":-5,"fontSize":15.5,"lineHeight":18.5,"font":"Liberation Sans","color":"white","stroke":"white","strokeWidth":5,"strokeJoin":"round"},"encoding":{"x":{"datum":3000,"type":"quantitative","scale":{"domain":[0,3000],"nice":false,"zero":false},"axis":null},"y":{"datum":66.3,"type":"quantitative","scale":{"domain":[0,122],"nice":false},"axis":null},"text":{"value":["Ordovician Eureka","Quartzite [1/94]"]}}},
{"data":{"values":[{}]},"mark":{"type":"text","align":"right","baseline":"middle","dx":-5,"fontSize":15.5,"lineHeight":18.5,"font":"Liberation Sans","color":"#1c1c1c"},"encoding":{"x":{"datum":3000,"type":"quantitative","scale":{"domain":[0,3000],"nice":false,"zero":false},"axis":null},"y":{"datum":66.3,"type":"quantitative","scale":{"domain":[0,122],"nice":false},"axis":null},"text":{"value":["Ordovician Eureka","Quartzite [1/94]"]}}}
]},
{"width":643,"height":29,"data":{"values":[{}]},"mark":{"type":"text","text":""},"encoding":{}},
{"width":643,"height":119,"layer":[
{"data":{"name":"grid"},"mark":{"type":"rule"},"encoding":{"x":{"field":"ma","type":"quantitative","scale":{"domain":[0,3000],"nice":false,"zero":false},"axis":{"orient":"bottom","values":[0,100,200,300,400,500,600,700,800,900,1000,1100,1200,1300,1400,1500,1600,1700,1800,1900,2000,2100,2200,2300,2400,2500,2600,2700,2800,2900,3000],"format":"d","labelExpr":"datum.value % 200 === 0 && datum.value > 0 && datum.value < 3000 ? datum.label : ''","domain":false,"grid":false,"ticks":true,"tickSize":8,"tickWidth":1.4,"tickColor":"#1c1c1c","labelFont":"Liberation Sans","labelFontSize":15,"labelColor":"#1c1c1c","labelPadding":5,"labelFlush":false,"labelOverlap":false,"labelBound":false,"title":null}},"color":{"condition":[{"test":"datum.ma === 1800","value":"#1c1c1c"},{"test":"datum.ma === 1000","value":"#5a5a5a"}],"value":"#cdcdcd"},"strokeWidth":{"condition":[{"test":"datum.ma === 1800","value":2.2},{"test":"datum.ma === 1000","value":1.6}],"value":1}}},
{"data":{"name":"E1"},"mark":{"type":"line","interpolate":"monotone","strokeWidth":2.2,"color":"#9a9ea1","strokeJoin":"round"},"encoding":{"x":{"field":"ma","type":"quantitative","scale":{"domain":[0,3000],"nice":false,"zero":false},"axis":{"orient":"bottom","values":[0,100,200,300,400,500,600,700,800,900,1000,1100,1200,1300,1400,1500,1600,1700,1800,1900,2000,2100,2200,2300,2400,2500,2600,2700,2800,2900,3000],"format":"d","labelExpr":"datum.value % 200 === 0 && datum.value > 0 && datum.value < 3000 ? datum.label : ''","domain":false,"grid":false,"ticks":true,"tickSize":8,"tickWidth":1.4,"tickColor":"#1c1c1c","labelFont":"Liberation Sans","labelFontSize":15,"labelColor":"#1c1c1c","labelPadding":5,"labelFlush":false,"labelOverlap":false,"labelBound":false,"title":null}},"y":{"field":"p","type":"quantitative","scale":{"domain":[0,119],"nice":false},"axis":null}}},
{"data":{"values":[{}]},"mark":{"type":"rule","color":"#1c1c1c","strokeWidth":2.6},"encoding":{"x":{"datum":0,"type":"quantitative","scale":{"domain":[0,3000],"nice":false,"zero":false},"axis":{"orient":"bottom","values":[0,100,200,300,400,500,600,700,800,900,1000,1100,1200,1300,1400,1500,1600,1700,1800,1900,2000,2100,2200,2300,2400,2500,2600,2700,2800,2900,3000],"format":"d","labelExpr":"datum.value % 200 === 0 && datum.value > 0 && datum.value < 3000 ? datum.label : ''","domain":false,"grid":false,"ticks":true,"tickSize":8,"tickWidth":1.4,"tickColor":"#1c1c1c","labelFont":"Liberation Sans","labelFontSize":15,"labelColor":"#1c1c1c","labelPadding":5,"labelFlush":false,"labelOverlap":false,"labelBound":false,"title":null}}}},
{"data":{"values":[{}]},"mark":{"type":"rule","color":"#1c1c1c","strokeWidth":2.6},"encoding":{"x":{"datum":3000,"type":"quantitative","scale":{"domain":[0,3000],"nice":false,"zero":false},"axis":{"orient":"bottom","values":[0,100,200,300,400,500,600,700,800,900,1000,1100,1200,1300,1400,1500,1600,1700,1800,1900,2000,2100,2200,2300,2400,2500,2600,2700,2800,2900,3000],"format":"d","labelExpr":"datum.value % 200 === 0 && datum.value > 0 && datum.value < 3000 ? datum.label : ''","domain":false,"grid":false,"ticks":true,"tickSize":8,"tickWidth":1.4,"tickColor":"#1c1c1c","labelFont":"Liberation Sans","labelFontSize":15,"labelColor":"#1c1c1c","labelPadding":5,"labelFlush":false,"labelOverlap":false,"labelBound":false,"title":null}}}},
{"data":{"values":[{}]},"mark":{"type":"rule","color":"#1c1c1c","strokeWidth":2.6,"strokeCap":"square"},"encoding":{"y":{"datum":119,"type":"quantitative","scale":{"domain":[0,119],"nice":false},"axis":null}}},
{"data":{"values":[{}]},"mark":{"type":"rule","color":"#1c1c1c","strokeWidth":2.6,"strokeCap":"square"},"encoding":{"y":{"datum":0,"type":"quantitative","scale":{"domain":[0,119],"nice":false},"axis":null}}},
{"data":{"values":[{}]},"mark":{"type":"text","align":"left","baseline":"alphabetic","fontSize":18,"font":"Liberation Sans","color":"#1c1c1c"},"encoding":{"x":{"datum":19,"type":"quantitative","scale":{"domain":[0,3000],"nice":false,"zero":false},"axis":{"orient":"bottom","values":[0,100,200,300,400,500,600,700,800,900,1000,1100,1200,1300,1400,1500,1600,1700,1800,1900,2000,2100,2200,2300,2400,2500,2600,2700,2800,2900,3000],"format":"d","labelExpr":"datum.value % 200 === 0 && datum.value > 0 && datum.value < 3000 ? datum.label : ''","domain":false,"grid":false,"ticks":true,"tickSize":8,"tickWidth":1.4,"tickColor":"#1c1c1c","labelFont":"Liberation Sans","labelFontSize":15,"labelColor":"#1c1c1c","labelPadding":5,"labelFlush":false,"labelOverlap":false,"labelBound":false,"title":null}},"y":{"datum":125.5,"type":"quantitative","scale":{"domain":[0,119],"nice":false},"axis":null},"text":{"value":"Joshua Tree Proterozoic Quartzites [2/159]"}}},
{"data":{"values":[{}]},"mark":{"type":"text","align":"left","baseline":"alphabetic","fontSize":36,"fontWeight":"bold","font":"Liberation Sans","color":"#1c1c1c"},"encoding":{"x":{"datum":37,"type":"quantitative","scale":{"domain":[0,3000],"nice":false,"zero":false},"axis":{"orient":"bottom","values":[0,100,200,300,400,500,600,700,800,900,1000,1100,1200,1300,1400,1500,1600,1700,1800,1900,2000,2100,2200,2300,2400,2500,2600,2700,2800,2900,3000],"format":"d","labelExpr":"datum.value % 200 === 0 && datum.value > 0 && datum.value < 3000 ? datum.label : ''","domain":false,"grid":false,"ticks":true,"tickSize":8,"tickWidth":1.4,"tickColor":"#1c1c1c","labelFont":"Liberation Sans","labelFontSize":15,"labelColor":"#1c1c1c","labelPadding":5,"labelFlush":false,"labelOverlap":false,"labelBound":false,"title":null}},"y":{"datum":84,"type":"quantitative","scale":{"domain":[0,119],"nice":false},"axis":null},"text":{"value":"E"}}},
{"data":{"values":[{}]},"mark":{"type":"text","align":"center","baseline":"middle","fontSize":12,"font":"Liberation Sans","color":"#1c1c1c"},"encoding":{"x":{"datum":2957,"type":"quantitative","scale":{"domain":[0,3000],"nice":false,"zero":false},"axis":{"orient":"bottom","values":[0,100,200,300,400,500,600,700,800,900,1000,1100,1200,1300,1400,1500,1600,1700,1800,1900,2000,2100,2200,2300,2400,2500,2600,2700,2800,2900,3000],"format":"d","labelExpr":"datum.value % 200 === 0 && datum.value > 0 && datum.value < 3000 ? datum.label : ''","domain":false,"grid":false,"ticks":true,"tickSize":8,"tickWidth":1.4,"tickColor":"#1c1c1c","labelFont":"Liberation Sans","labelFontSize":15,"labelColor":"#1c1c1c","labelPadding":5,"labelFlush":false,"labelOverlap":false,"labelBound":false,"title":null}},"y":{"datum":-19.5,"type":"quantitative","scale":{"domain":[0,119],"nice":false},"axis":null},"text":{"value":"(Ma)"}}}
]}
]
}
